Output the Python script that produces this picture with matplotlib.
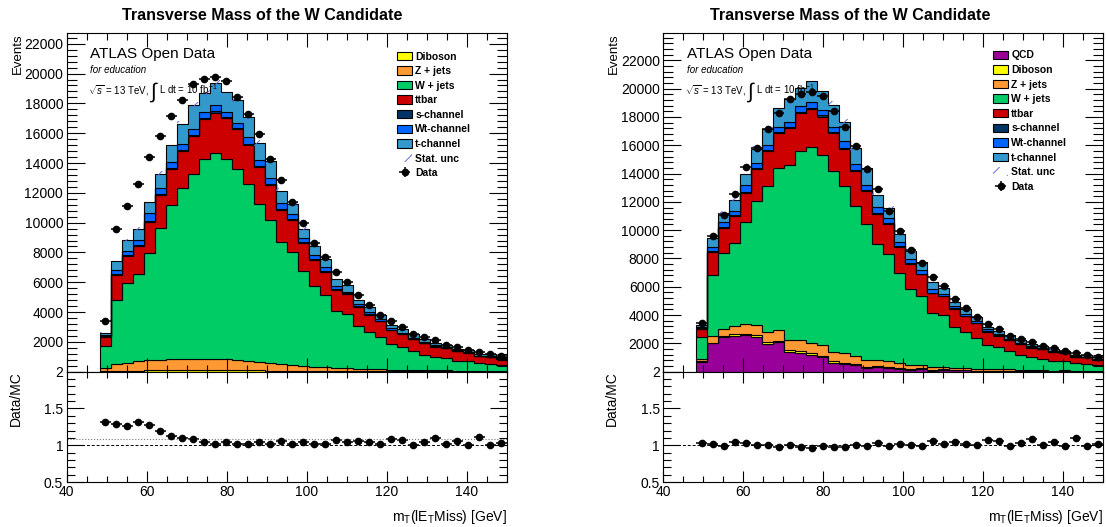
import numpy as np
import matplotlib.pyplot as plt
from matplotlib.patches import Patch
from matplotlib.ticker import MultipleLocator, FixedLocator, FuncFormatter

plt.rcParams['font.family'] = ['Liberation Sans', 'DejaVu Sans']
plt.rcParams['mathtext.fontset'] = 'custom'
plt.rcParams['mathtext.rm'] = 'Liberation Sans'
plt.rcParams['mathtext.it'] = 'Liberation Sans:italic'
plt.rcParams['hatch.linewidth'] = 0.7

# 40 bins of 2.75 GeV from 40 to 150, first three are empty
edges = np.linspace(40, 150, 41)[3:]
centers = 0.5 * (edges[1:] + edges[:-1])
halfw = 0.5 * (edges[1] - edges[0])

data = [3420, 9570, 11100, 12585, 14435, 15820, 17170, 18250, 19300, 19630,
        19740, 19510, 18420, 17260, 15945, 14300, 12880, 11370, 9945, 8605,
        7690, 6690, 6035, 5130, 4480, 3830, 3395, 3030, 2550, 2320,
        2115, 1815, 1645, 1430, 1315, 1165, 1030]

diboson = [40, 60, 70, 80, 90, 95, 100, 100, 100, 100,
           100, 100, 95, 90, 85, 80, 75, 70, 65, 60,
           55, 50, 45, 40, 34, 30, 30, 25, 25, 20,
           20, 20, 14, 15, 13, 14, 9]
zjets = [184, 454, 533, 613, 670, 710, 749, 772, 772, 772,
         749, 727, 687, 648, 586, 523, 461, 399, 337, 275,
         236, 196, 179, 161, 139, 126, 104, 109, 87, 92,
         69, 69, 49, 52, 45, 49, 33]
wjets = [1497, 4291, 5320, 5833, 7219, 8806, 10326, 11421, 12359, 13365,
         13835, 13410, 12784, 11845, 10571, 9566, 8181, 7577, 6370, 5409,
         4850, 3844, 3643, 2883, 2521, 2146, 1721, 1542, 1296, 1006,
         917, 805, 680, 648, 525, 466, 395]
ttbar = [626, 1677, 1832, 1900, 2079, 2235, 2436, 2503, 2593, 2682,
         2704, 2749, 2682, 2615, 2458, 2347, 2123, 2123, 1877, 1743,
         1542, 1386, 1341, 1274, 1120, 1095, 939, 827, 760, 782,
         670, 671, 638, 559, 447, 466, 396]
schan = [20, 50, 60, 60, 70, 75, 75, 80, 80, 80,
         80, 80, 75, 75, 70, 70, 65, 60, 55, 50,
         45, 45, 40, 40, 34, 30, 30, 25, 25, 20,
         20, 20, 14, 15, 13, 14, 9]
wtchan = [92, 285, 298, 342, 488, 372, 350, 367, 367, 434,
          412, 367, 328, 439, 422, 377, 426, 343, 281, 286,
          268, 223, 116, 139, 139, 104, 126, 87, 87, 92,
          92, 47, 49, 52, 25, 50, 53]
tchan = [142, 602, 697, 742, 750, 1001, 1159, 1348, 1599, 1262,
         1473, 1327, 1587, 1377, 1140, 1195, 820, 685, 578, 613,
         543, 508, 439, 303, 323, 261, 196, 223, 245, 198,
         135, 156, 107, 89, 116, 105, 104]
qcd = [702, 2000, 2430, 2550, 2600, 2470, 1980, 2070, 1400, 1335,
       1190, 1040, 630, 555, 460, 250, 320, 290, 187, 120,
       185, 70, 120, 94, 90, 45, 38, 36, 55, 32,
       30, 25, 20, 18, 15, 12, 10]

stat_unc_rel = 0.012

colors = {'QCD': '#990099', 'Diboson': '#ffff00', 'Z + jets': '#ff9933',
          'W + jets': '#00cc66', 'ttbar': '#cc0000', 's-channel': '#003366',
          'Wt-channel': '#0066ff', 't-channel': '#3399cc'}
hatch_col = '#6070e0'

W, H = 1107, 527
fig = plt.figure(figsize=(W / 100, H / 100), dpi=100)


def frac(x0, y0, x1, y1):
    return [x0 / W, 1 - y1 / H, (x1 - x0) / W, (y1 - y0) / H]


def style_ticks(ax, xmaj_len, xmin_len, ymaj_len, ymin_len):
    ax.tick_params(which='both', direction='in', top=True, right=True,
                   labelsize=10, pad=2.5, width=0.8)
    ax.tick_params(axis='x', which='major', length=xmaj_len)
    ax.tick_params(axis='x', which='minor', length=xmin_len)
    ax.tick_params(axis='y', which='major', length=ymaj_len)
    ax.tick_params(axis='y', which='minor', length=ymin_len)
    for s in ax.spines.values():
        s.set_linewidth(0.8)


def draw(x0, x1, title_x, with_qcd, extra_line):
    ax = fig.add_axes(frac(x0, 33.3, x1, 371.7))
    rx = fig.add_axes(frac(x0, 371.7, x1, 482))
    ax_x = lambda px: (px - x0) / (x1 - x0)
    ax_y = lambda py: 1 - (py - 33.3) / 338.4

    comps = [('Diboson', diboson), ('Z + jets', zjets), ('W + jets', wjets),
             ('ttbar', ttbar), ('s-channel', schan), ('Wt-channel', wtchan),
             ('t-channel', tchan)]
    if with_qcd:
        comps = [('QCD', qcd)] + comps

    bottom = np.zeros(len(centers))
    for name, vals in comps:
        top = bottom + np.array(vals)
        ax.stairs(top, edges, baseline=bottom, fill=True,
                  facecolor=colors[name], edgecolor='black', linewidth=0.8)
        bottom = top
    total = bottom
    unc = stat_unc_rel * total
    ax.stairs(total + unc, edges, baseline=total - unc, fill=True,
              facecolor='none', edgecolor=hatch_col, hatch='/', linewidth=0)

    d = np.array(data, dtype=float)
    derr = np.sqrt(d)
    eb = ax.errorbar(centers, d, xerr=halfw, yerr=derr, fmt='o', color='black',
                     ms=4.5, elinewidth=1.1, capsize=0)

    ymax = 1.15 * max(d.max(), (total + unc).max())
    ax.set_xlim(40, 150)
    ax.set_ylim(0, ymax)
    ax.xaxis.set_major_locator(MultipleLocator(20))
    ax.xaxis.set_minor_locator(MultipleLocator(5))
    ax.yaxis.set_major_locator(MultipleLocator(2000))
    ax.yaxis.set_minor_locator(MultipleLocator(400))
    ax.yaxis.set_major_formatter(FuncFormatter(lambda v, p: '' if v == 0 else f'{v:.0f}'))
    style_ticks(ax, 10, 5, 13, 7)
    ax.tick_params(labelbottom=False)
    ax.set_ylabel('Events', loc='top', fontsize=9.5)
    ax.yaxis.set_label_coords(ax_x(x0 - 43), 1.0)

    fig.text(title_x / W, 1 - 16 / H, 'Transverse Mass of the W Candidate',
             ha='center', va='center', fontsize=11.6, fontweight='bold')

    ax.text(ax_x(x0 + 23.3), ax_y(54), 'ATLAS Open Data',
            transform=ax.transAxes, fontsize=11, va='center', ha='left')
    ax.text(ax_x(x0 + 23.3), ax_y(70), 'for education',
            transform=ax.transAxes, fontsize=7, style='italic', va='center', ha='left')
    ax.text(ax_x(x0 + 21.3), ax_y(94), r'$\sqrt{s}$ = 13 TeV,',
            transform=ax.transAxes, fontsize=7, va='baseline', ha='left')
    ax.text(ax_x(x0 + 82.3), ax_y(92), r'$\int$',
            transform=ax.transAxes, fontsize=15, va='center', ha='left')
    ax.text(ax_x(x0 + 92.3), ax_y(94), r'L dt = 10 fb$^{-1}$',
            transform=ax.transAxes, fontsize=7, va='baseline', ha='left')

    handles = [Patch(facecolor=colors[n], edgecolor='black', linewidth=0.8)
               for n, _ in comps]
    labels = [n for n, _ in comps]
    handles.append(Patch(facecolor='none', edgecolor=hatch_col, hatch='//', linewidth=0))
    labels.append('Stat. unc')
    handles.append(eb)
    labels.append('Data')
    lx = ax_x(993) if with_qcd else ax_x(397)
    ly = ax_y(50.5) if with_qcd else ax_y(51.5)
    ax.legend(handles, labels, loc='upper left', bbox_to_anchor=(lx, ly),
              frameon=False, prop={'weight': 'bold', 'size': 7.5},
              handlelength=1.45, handleheight=0.85, handletextpad=0.3,
              labelspacing=0.44, borderaxespad=0, borderpad=0)

    # ratio panel
    ratio = d / total
    rerr = derr / total
    rx.errorbar(centers, ratio, xerr=halfw, yerr=rerr, fmt='o', color='black',
                ms=4.5, elinewidth=1.1, capsize=0)
    rx.axhline(1.0, color='black', linestyle='--', linewidth=0.7, dashes=(3, 2))
    if extra_line is not None:
        rx.axhline(extra_line, color='#777777', linestyle=':', linewidth=0.8)
    rx.set_xlim(40, 150)
    rx.set_ylim(0.5, 2.0)
    rx.xaxis.set_major_locator(MultipleLocator(20))
    rx.xaxis.set_minor_locator(MultipleLocator(5))
    rx.yaxis.set_major_locator(FixedLocator([0.5, 1.0, 1.5, 2.0]))
    rx.yaxis.set_minor_locator(MultipleLocator(0.1))
    rx.yaxis.set_major_formatter(FuncFormatter(lambda v, p: f'{v:g}'))
    rx.xaxis.set_major_formatter(FuncFormatter(lambda v, p: f'{v:.0f}'))
    style_ticks(rx, 8, 4, 12, 6)
    rx.set_ylabel('Data/MC', loc='top', fontsize=10)
    rx.yaxis.set_label_coords(ax_x(x0 - 44), 1.0)
    rx.set_xlabel(r'm$_\mathregular{T}$(lE$_\mathregular{T}$Miss) [GeV]', loc='right',
                  fontsize=10, labelpad=6)


draw(66.7, 506.7, 262, False, 1.08)
draw(663.3, 1103, 850, True, None)

fig.savefig('out.png', dpi=100, facecolor='white')
